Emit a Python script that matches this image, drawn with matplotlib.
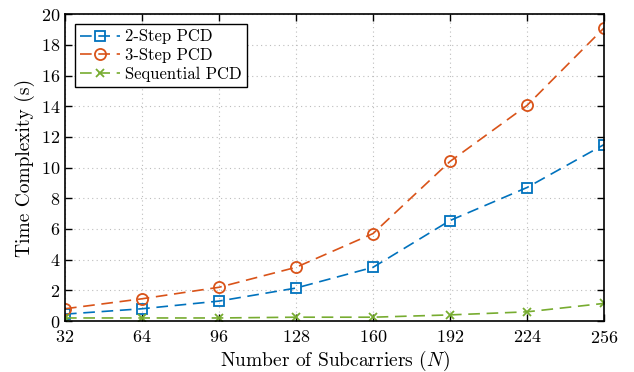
import matplotlib
matplotlib.use("Agg")
import matplotlib.pyplot as plt

N = [32, 64, 96, 128, 160, 192, 224, 256]
two_step = [0.45, 0.8, 1.3, 2.15, 3.5, 6.55, 8.7, 11.5]
three_step = [0.8, 1.45, 2.2, 3.5, 5.7, 10.4, 14.05, 19.1]
sequential = [0.2, 0.2, 0.2, 0.25, 0.25, 0.4, 0.6, 1.15]
yticks = [0, 2, 4, 6, 8, 10, 12, 14, 16, 18, 20]

plt.rcParams['font.family'] = ['cmr10']
plt.rcParams['mathtext.fontset'] = 'cm'
plt.rcParams['axes.formatter.use_mathtext'] = True

fig = plt.figure(figsize=(6.34, 3.72), dpi=100)
ax = fig.add_axes([0.1025, 0.137, 0.8502, 0.825])

dash = (7, 4)
ax.plot(N, two_step, '--s', color='#0072BD', lw=1.2, ms=7, mfc='none', mew=1.3, dashes=dash, label='2-Step PCD')
ax.plot(N, three_step, '--o', color='#D95319', lw=1.2, ms=8, mfc='none', mew=1.3, dashes=dash, label='3-Step PCD')
ax.plot(N, sequential, '--x', color='#77AC30', lw=1.2, ms=6, mew=1.3, dashes=dash, label='Sequential PCD')

ax.set_xlim(32, 256)
ax.set_ylim(0, 20)
ax.set_xticks(N)
ax.set_yticks(yticks)
ax.grid(True, linestyle=(0, (1, 3)), color='#bdbdbd', linewidth=0.8)
ax.tick_params(direction='in', top=True, right=True, labelsize=13, length=5, width=1)
ax.tick_params(axis='x', pad=6)
for s in ax.spines.values():
    s.set_linewidth(1.2)
ax.set_xlabel('Number of Subcarriers ($N$)', fontsize=14, labelpad=2)
ax.set_ylabel('Time Complexity (s)', fontsize=14)
leg = ax.legend(loc='upper left', fontsize=12, fancybox=False, edgecolor='black',
                framealpha=1, handlelength=2.4, borderpad=0.3, labelspacing=0.2,
                handletextpad=0.3, borderaxespad=0.6)
leg.get_frame().set_linewidth(1.0)
fig.savefig('out.png', dpi=100)
